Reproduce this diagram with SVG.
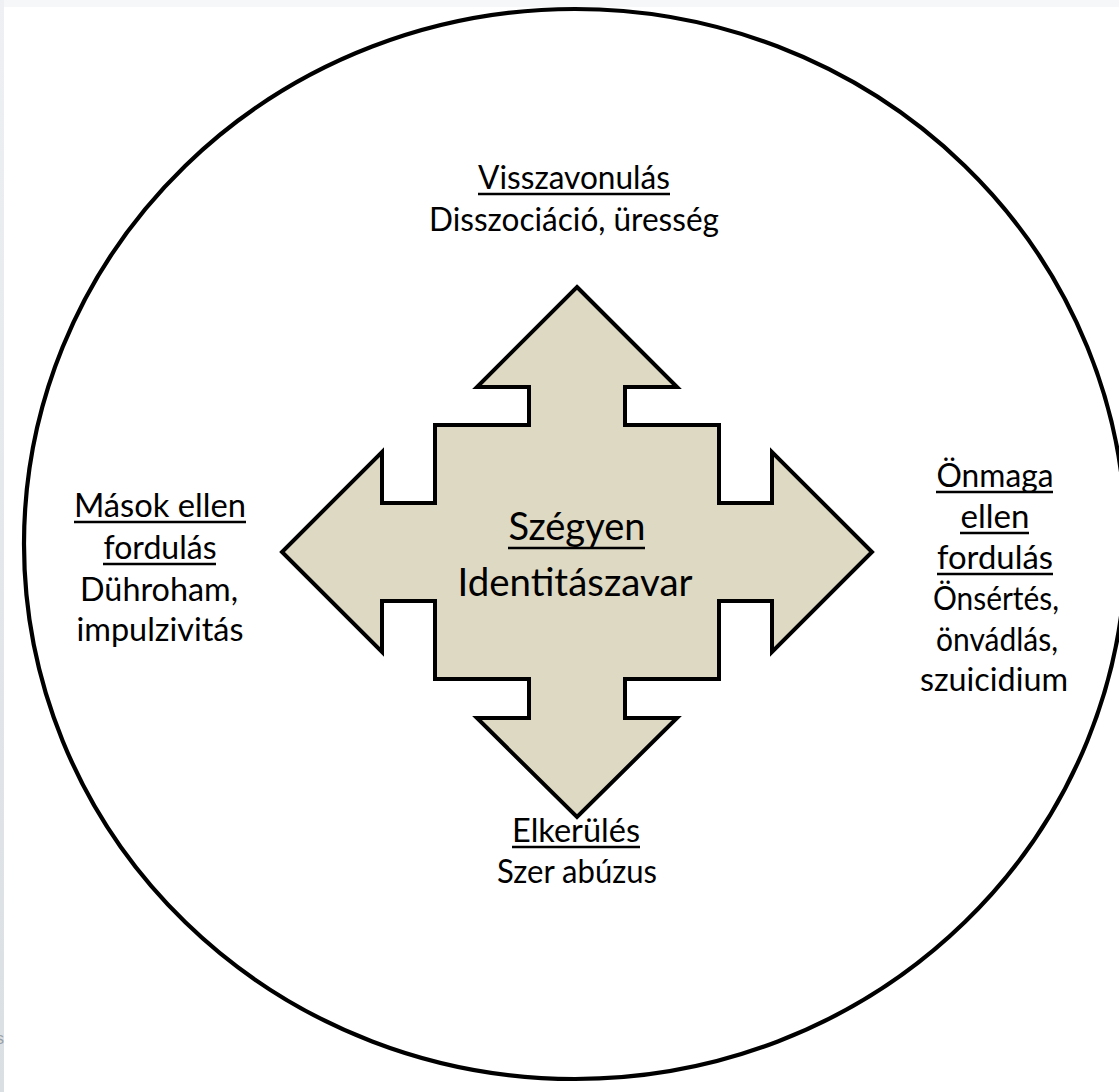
<svg xmlns="http://www.w3.org/2000/svg" width="1119" height="1092" viewBox="0 0 1119 1092">
  <defs>
    <linearGradient id="strip" x1="0" y1="0" x2="0" y2="1">
      <stop offset="0" stop-color="#eef0f3"/>
      <stop offset="1" stop-color="#dadfe3"/>
    </linearGradient>
  </defs>
  <style>
    .t { font-family: "Lato", "Liberation Sans", sans-serif; font-size: 33px; fill: #000; text-anchor: middle; }
    .c { font-size: 39px; }
    .ul { stroke: #000; stroke-width: 2.4; }
    .ring { fill: none; stroke: #000; stroke-width: 4.2; }
    .arrow { fill: #ddd9c3; stroke: #000; stroke-width: 4; stroke-linejoin: miter; }
  </style>
  <rect x="0" y="0" width="1119" height="1092" fill="#ffffff"/>
  <rect x="0" y="0" width="1119" height="7" fill="#f6f7f8"/>
  <rect x="0" y="0" width="4" height="1092" fill="url(#strip)"/>
  <text x="-4" y="1044" style="font-family:'Liberation Sans',sans-serif;font-size:16px;fill:#9aa0a6">s</text>

  <g id="ring">
    <ellipse class="ring" cx="575" cy="544" rx="551" ry="535"/>
  </g>

  <g id="connectors">
    <path id="cross-arrow" class="arrow" d="M577,287 L677,387 L625,387 L625,425 L719,425 L719,503 L772,503 L772,452 L872,552 L772,652 L772,601 L719,601 L719,679 L625,679 L625,718 L677,718 L577,817 L477,718 L529,718 L529,679 L435,679 L435,601 L382,601 L382,652 L282,552 L382,452 L382,503 L435,503 L435,425 L529,425 L529,387 L477,387 Z"/>
  </g>

  <g id="node-center">
    <text class="t c" x="577" y="540" textLength="137" lengthAdjust="spacingAndGlyphs">Szégyen</text>
    <line class="ul" x1="508" y1="548" x2="645" y2="548"/>
    <text class="t c" x="575" y="596" textLength="235" lengthAdjust="spacingAndGlyphs">Identitászavar</text>
  </g>

  <g id="node-top">
    <text class="t" x="574" y="189" textLength="192" lengthAdjust="spacingAndGlyphs">Visszavonulás</text>
    <line class="ul" x1="478" y1="194" x2="670" y2="194"/>
    <text class="t" x="574" y="231" textLength="290" lengthAdjust="spacingAndGlyphs">Disszociáció, üresség</text>
  </g>

  <g id="node-left">
    <text class="t" x="160" y="517" textLength="172" lengthAdjust="spacingAndGlyphs">Mások ellen</text>
    <line class="ul" x1="74" y1="522" x2="246" y2="522"/>
    <text class="t" x="160" y="559" textLength="113" lengthAdjust="spacingAndGlyphs">fordulás</text>
    <line class="ul" x1="103" y1="564" x2="216" y2="564"/>
    <text class="t" x="159" y="601" textLength="158" lengthAdjust="spacingAndGlyphs">Dühroham,</text>
    <text class="t" x="160" y="641" textLength="167" lengthAdjust="spacingAndGlyphs">impulzivitás</text>
  </g>

  <g id="node-right">
    <text class="t" x="995" y="487" textLength="117" lengthAdjust="spacingAndGlyphs">Önmaga</text>
    <line class="ul" x1="936" y1="492" x2="1053" y2="492"/>
    <text class="t" x="995" y="528" textLength="69" lengthAdjust="spacingAndGlyphs">ellen</text>
    <line class="ul" x1="960" y1="533" x2="1029" y2="533"/>
    <text class="t" x="995" y="569" textLength="116" lengthAdjust="spacingAndGlyphs">fordulás</text>
    <line class="ul" x1="937" y1="574" x2="1053" y2="574"/>
    <text class="t" x="996" y="610" textLength="126" lengthAdjust="spacingAndGlyphs">Önsértés,</text>
    <text class="t" x="997" y="651" textLength="122" lengthAdjust="spacingAndGlyphs">önvádlás,</text>
    <text class="t" x="994" y="691" textLength="148" lengthAdjust="spacingAndGlyphs">szuicidium</text>
  </g>

  <g id="node-bottom">
    <text class="t" x="576" y="842" textLength="128" lengthAdjust="spacingAndGlyphs">Elkerülés</text>
    <line class="ul" x1="512" y1="847" x2="640" y2="847"/>
    <text class="t" x="577" y="883" textLength="160" lengthAdjust="spacingAndGlyphs">Szer abúzus</text>
  </g>
</svg>
